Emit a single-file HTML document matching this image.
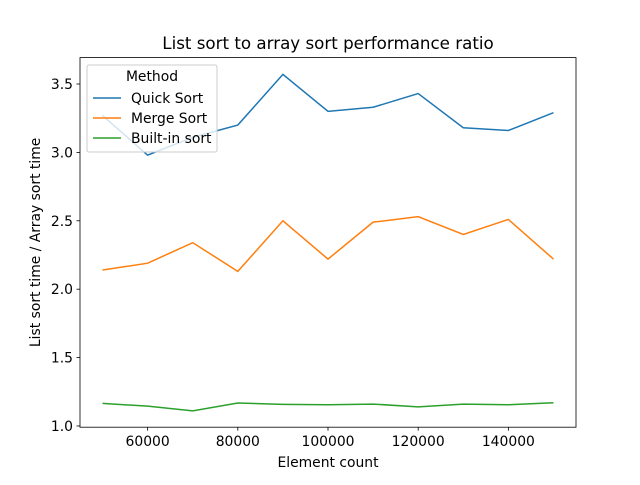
<!DOCTYPE html>
<html><head><meta charset="utf-8"><style>
body{margin:0;background:#fff;}
svg text{font-family:"DejaVu Sans","Liberation Sans",sans-serif;fill:#000;}
</style></head><body>
<svg id="chart" width="640" height="480" xmlns="http://www.w3.org/2000/svg">
<rect width="640" height="480" fill="#fff"/>
<text x="328" y="49" font-size="16.7" text-anchor="middle">List sort to array sort performance ratio</text>
<g id="plot"></g>
</svg>
<script>
const categories=[50000,60000,70000,80000,90000,100000,110000,120000,130000,140000,150000];
const quickSort=[3.27,2.98,3.11,3.20,3.57,3.30,3.33,3.43,3.18,3.16,3.29];
const mergeSort=[2.14,2.19,2.34,2.13,2.50,2.22,2.49,2.53,2.40,2.51,2.22];
const builtinSort=[1.165,1.145,1.11,1.168,1.158,1.155,1.16,1.14,1.16,1.155,1.17];
const xTicks=[60000,80000,100000,120000,140000];
const yTicks=[1.0,1.5,2.0,2.5,3.0,3.5];
const seriesNames=["Quick Sort","Merge Sort","Built-in sort"];
const colors=["#1f77b4","#ff7f0e","#2ca02c"];
const L=80,R=576,T=57.6,B=427.2;
const xMin=45000,xMax=155000,yMin=0.991,yMax=3.693;
const xs=v=>L+(v-xMin)/(xMax-xMin)*(R-L);
const ys=v=>B-(v-yMin)/(yMax-yMin)*(B-T);
const NS="http://www.w3.org/2000/svg";
const g=document.getElementById('plot');
const FS=13.9;
function mk(tag,attrs,parent){const e=document.createElementNS(NS,tag);for(const k in attrs)e.setAttribute(k,attrs[k]);(parent||g).appendChild(e);return e;}
[quickSort,mergeSort,builtinSort].forEach((s,i)=>{
  const p=mk('polyline',{points:s.map((v,j)=>xs(categories[j])+','+ys(v)).join(' '),fill:'none',stroke:colors[i],'stroke-width':1.5});
  
  
});
const frame=mk('rect',{x:L,y:T,width:R-L,height:B-T,fill:'none',stroke:'#000','stroke-width':0.8});


xTicks.forEach(v=>{
  const x=xs(v);
  mk('line',{x1:x,x2:x,y1:B,y2:B+3.5,stroke:'#000','stroke-width':0.8});
  const t=mk('text',{x:x,y:B+19,'font-size':FS,'text-anchor':'middle'});t.textContent=v;
  
  
});
yTicks.forEach(v=>{
  const y=ys(v);
  mk('line',{x1:L-3.5,x2:L,y1:y,y2:y,stroke:'#000','stroke-width':0.8});
  const t=mk('text',{x:L-7,y:y+5,'font-size':FS,'text-anchor':'end'});t.textContent=v.toFixed(1);
  
  
});
const xl=mk('text',{x:(L+R)/2,y:467,'font-size':FS,'text-anchor':'middle'});xl.textContent='Element count';


const yl=mk('text',{x:0,y:0,'font-size':FS,'text-anchor':'middle',transform:'translate(40,'+((T+B)/2)+') rotate(-90)'});yl.textContent='List sort time / Array sort time';


const lg=mk('g',{});


mk('rect',{x:87,y:65,width:130,height:87,rx:2,fill:'#fff','fill-opacity':0.8,stroke:'#ccc'},lg);
const lt=mk('text',{x:152,y:81,'font-size':FS,'text-anchor':'middle'},lg);lt.textContent='Method';
seriesNames.forEach((n,i)=>{
  const y=98+i*20;
  const e=mk('g',{},lg);
  
  
  mk('line',{x1:93,x2:121,y1:y,y2:y,stroke:colors[i],'stroke-width':1.5},e);
  const t=mk('text',{x:131,y:y+5,'font-size':FS},e);t.textContent=n;
});
</script>
</body></html>
